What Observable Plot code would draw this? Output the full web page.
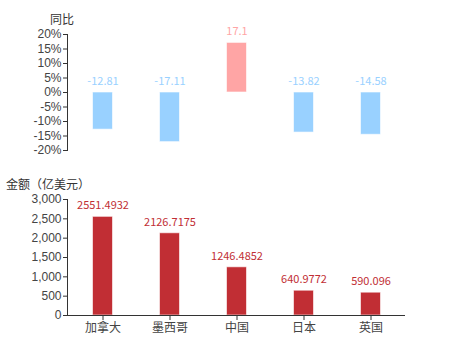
<!DOCTYPE html>
<html><head><meta charset="utf-8">
<script src="https://cdn.jsdelivr.net/npm/d3@7"></script>
<script src="https://cdn.jsdelivr.net/npm/@observablehq/plot@0.6"></script>
<style>
body{margin:0;background:#fff;font-family:"Noto Sans CJK SC","Noto Sans",sans-serif;}
#wrap{position:relative;width:450px;height:350px;}
.t{position:absolute;font-size:12px;line-height:13px;color:#333;}
#top,#bot{position:absolute;left:0;}
#top{top:0}
#bot{top:170px}
</style></head><body>
<div id="wrap">
<div id="top"></div>
<div id="bot"></div>
<div class="t" style="left:50px;top:12px;">同比</div>
<div class="t" style="left:6px;top:177px;">金额（亿美元）</div>
</div>
<script>
const countries = ["加拿大","墨西哥","中国","日本","英国"];
const yoy = [-12.81, -17.11, 17.1, -13.82, -14.58];
const amount = [2551.4932, 2126.7175, 1246.4852, 640.9772, 590.096];
const yoyTicks = [-20,-15,-10,-5,0,5,10,15,20];
const amountTicks = [0,500,1000,1500,2000,2500,3000];

const topData = countries.map((c,i)=>({c, v: yoy[i]}));
const botData = countries.map((c,i)=>({c, v: amount[i], label: String(amount[i])}));
const colr = d => d.v >= 0 ? "#ffa5a5" : "#99d1ff";
const font = `"Noto Sans CJK SC","Noto Sans",sans-serif`;
const tickFont = `"Liberation Sans","Noto Sans CJK SC",sans-serif`;

const topChart = Plot.plot({
  width: 450, height: 165,
  marginTop: 34, marginBottom: 15, marginLeft: 67, marginRight: 45,
  style: {fontFamily: font, fontSize: "12px", color: "#333", background: "transparent"},
  x: {domain: countries, padding: 0, axis: null},
  y: {domain: [-20, 20], ticks: yoyTicks, label: null},
  marks: [
    Plot.barY(topData, {x: "c", y: "v", fill: colr, stroke: "#fff", strokeOpacity: 0.6, insetLeft: 23.5, insetRight: 23.5}),
    Plot.text(topData, {x: "c", y: d => Math.max(d.v, 0), text: d => String(d.v), dy: -11, fill: colr, fontSize: 11}),
    Plot.axisY({ticks: yoyTicks, tickFormat: d => d + "%", tickSize: 4, tickPadding: 2, fontSize: 12, fontFamily: tickFont, fill: "#444", label: null}),
    Plot.frame({anchor: "left", stroke: "#333"})
  ]
});
document.getElementById("top").appendChild(topChart);

const botChart = Plot.plot({
  width: 450, height: 180,
  marginTop: 29, marginBottom: 35, marginLeft: 67, marginRight: 45,
  style: {fontFamily: font, fontSize: "12px", color: "#333", background: "transparent"},
  x: {domain: countries, padding: 0, label: null},
  y: {domain: [0, 3000], label: null},
  marks: [
    Plot.barY(botData, {x: "c", y: "v", fill: "#c12e34", stroke: "#fff", strokeOpacity: 0.6, insetLeft: 23.5, insetRight: 23.5}),
    Plot.text(botData, {x: "c", y: "v", text: "label", dy: -11, fill: "#c12e34", fontSize: 11}),
    Plot.axisY({ticks: amountTicks, tickFormat: d3.format(","), tickSize: 4, tickPadding: 2, fontSize: 12, fontFamily: tickFont, fill: "#444", label: null}),
    Plot.axisX({tickSize: 5, tickPadding: 3, fontSize: 12, fill: "#444", label: null}),
    Plot.frame({anchor: "left", stroke: "#333"}),
    Plot.ruleY([0], {stroke: "#333"})
  ]
});
document.getElementById("bot").appendChild(botChart);
</script>
</body></html>
